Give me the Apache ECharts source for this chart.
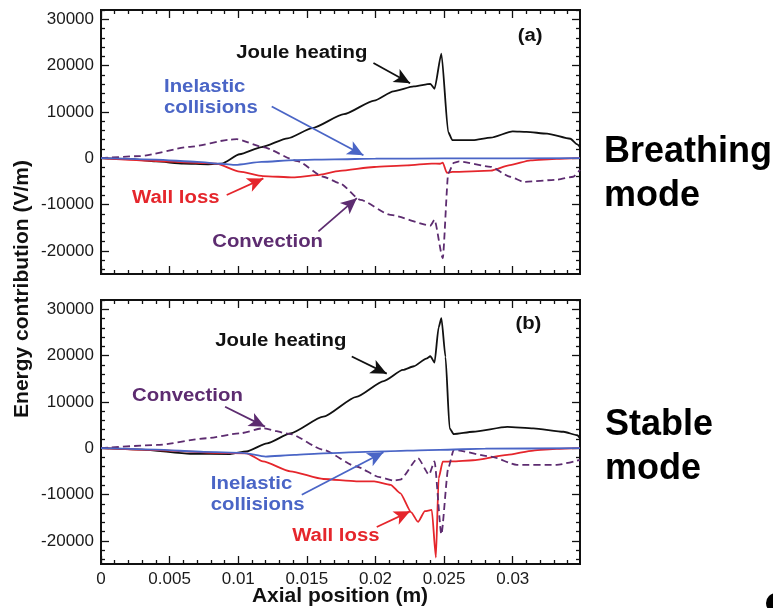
<!DOCTYPE html>
<html>
<head>
<meta charset="utf-8">
<script src="https://cdn.jsdelivr.net/npm/echarts@6/dist/echarts.min.js"></script>
<style>
  html, body { margin: 0; padding: 0; background: #fff; }
  #main { width: 773px; height: 608px; }
</style>
</head>
<body>
<div id="main"></div>
<script>
// axes
var xRange = [0, 0.0349];
var yRange = [-25000, 32000];
var xTicks = [0, 0.005, 0.01, 0.015, 0.02, 0.025, 0.03];
var yTicks = [-20000, -10000, 0, 10000, 20000, 30000];

// (a) breathing mode, [axial position, V/m]
var jouleA = [[0,0],[0.002,-150],[0.004,-700],[0.006,-1150],[0.0078,-1300],[0.0088,-1150],[0.0101,850],[0.0117,2400],[0.0136,4300],[0.0154,6500],[0.0177,9500],[0.0199,12450],[0.0213,14450],[0.0228,15500],[0.024,16050],[0.0243,15000],[0.0248,22600],[0.0253,5600],[0.0256,3900],[0.0271,3900],[0.0284,4450],[0.03,5800],[0.031,5700],[0.0325,5300],[0.0342,4200],[0.0347,3000],[0.0349,2400]];
var inelA = [[0,0],[0.004,-300],[0.007,-800],[0.0088,-1200],[0.0098,-1450],[0.0117,-800],[0.0141,-400],[0.017,-250],[0.02,-100],[0.025,-50],[0.0349,0]];
var wallA = [[0,0],[0.004,-600],[0.007,-1000],[0.0084,-1150],[0.0101,-2900],[0.0118,-3850],[0.014,-4150],[0.0157,-3650],[0.0174,-2750],[0.0199,-1900],[0.0223,-1550],[0.0241,-1150],[0.0247,-1200],[0.0249,-950],[0.0252,-3150],[0.0256,-2950],[0.0284,-2700],[0.0298,-1500],[0.0313,-450],[0.0332,-150],[0.0349,0]];
var convA = [[0,0],[0.0028,450],[0.0065,2450],[0.0094,4000],[0.0099,4100],[0.0118,2400],[0.0143,-600],[0.0162,-4000],[0.0174,-5400],[0.0189,-9000],[0.0211,-12250],[0.024,-14550],[0.0243,-13300],[0.0249,-21600],[0.0253,-3300],[0.0257,-1000],[0.0261,-700],[0.0284,-1850],[0.0298,-4000],[0.0308,-5100],[0.0332,-4650],[0.0344,-4000],[0.0349,-2500]];

// (b) stable mode
var jouleB = [[0,0],[0.003,-300],[0.0065,-1200],[0.0094,-1250],[0.0106,-700],[0.0121,1050],[0.0138,3200],[0.0162,6800],[0.0186,11100],[0.0206,14500],[0.022,16900],[0.0228,17700],[0.0237,19350],[0.024,19850],[0.0243,18500],[0.0246,26100],[0.0248,28100],[0.0251,19700],[0.0254,4300],[0.0257,3050],[0.0271,3550],[0.0296,4600],[0.0315,4300],[0.0337,3550],[0.0347,2800],[0.0349,2150]];
var inelB = [[0,0],[0.004,-300],[0.0075,-800],[0.0103,-1000],[0.012,-1800],[0.0141,-1450],[0.0162,-1100],[0.0199,-720],[0.0247,-350],[0.028,-100],[0.0349,0]];
var wallB = [[0,0],[0.004,-400],[0.0082,-1000],[0.0106,-1100],[0.0118,-2850],[0.0138,-5000],[0.0162,-6650],[0.0186,-7150],[0.0199,-7150],[0.0211,-7900],[0.0218,-9700],[0.0226,-13850],[0.0231,-15900],[0.0236,-13600],[0.0241,-13300],[0.0244,-23600],[0.0246,-6500],[0.0249,-2900],[0.0256,-2850],[0.0271,-2600],[0.0296,-1450],[0.0315,-500],[0.0332,-150],[0.0349,0]];
var convB = [[0,0],[0.0041,700],[0.0077,2150],[0.0101,3200],[0.0118,4300],[0.0138,3050],[0.0162,-350],[0.0186,-3950],[0.0203,-6250],[0.0213,-7000],[0.0218,-6800],[0.0231,-2150],[0.0239,-5700],[0.0243,-2850],[0.0248,-18600],[0.0253,-4300],[0.0257,-350],[0.0284,-1800],[0.0303,-3600],[0.0332,-3600],[0.0349,-2500]];

var FONT = '"Liberation Sans", Arial, sans-serif';
var BLACK = '#111', BLUE = '#4a65c6', RED = '#e5262c', PURPLE = '#5d2c70';

// annotations in data coordinates
var notesA = [
  { text: 'Joule heating', at: [0.01463, 22680], color: BLACK, align: 'center' },
  { text: '(a)', at: [0.03127, 26450], color: BLACK, align: 'center' },
  { text: 'Inelastic\ncollisions', at: [0.00459, 13180], color: BLUE, align: 'left' },
  { text: 'Wall loss', at: [0.00545, -8665], color: RED, align: 'center' },
  { text: 'Convection', at: [0.01214, -17995], color: PURPLE, align: 'center' }
];
var arrowsA = [
  { from: [0.01985, 20540], to: [0.02252, 16190], color: BLACK },
  { from: [0.01244, 11180], to: [0.01912, 645], color: BLUE },
  { from: [0.00916, -7955], to: [0.01183, -4365], color: RED },
  { from: [0.01584, -15800], to: [0.01864, -8620], color: PURPLE }
];
var notesB = [
  { text: 'Joule heating', at: [0.0131, 23110], color: BLACK, align: 'center' },
  { text: '(b)', at: [0.03114, 26900], color: BLACK, align: 'center' },
  { text: 'Convection', at: [0.0063, 11240], color: PURPLE, align: 'center' },
  { text: 'Inelastic\ncollisions', at: [0.008, -9930], color: BLUE, align: 'left' },
  { text: 'Wall loss', at: [0.01711, -19020], color: RED, align: 'center' }
];
var arrowsB = [
  { from: [0.01827, 19800], to: [0.02082, 16100], color: BLACK },
  { from: [0.00904, 8950], to: [0.01195, 4650], color: PURPLE },
  { from: [0.01463, -10040], to: [0.02058, -880], color: BLUE },
  { from: [0.02009, -17000], to: [0.02252, -13630], color: RED }
];

// minor tick positions
var xMinor = [];
for (var i = 1; i <= 34; i++) { if (i % 5 !== 0) xMinor.push(i / 1000); }
var yMinor = [];
for (var v = -24000; v <= 32000; v += 2000) { if (v % 10000 !== 0) yMinor.push(v); }

function mkAxis(gridIndex, position, range, ticks, len, labels) {
  return {
    type: 'value', gridIndex: gridIndex, position: position,
    min: range[0], max: range[1],
    axisLine: { show: true, onZero: false, lineStyle: { color: BLACK, width: 2 } },
    axisTick: { show: true, inside: true, length: len, customValues: ticks, lineStyle: { color: BLACK, width: 1.3 } },
    axisLabel: labels ? {
      show: true, customValues: labels, margin: 7,
      formatter: function (val) { return String(val); },
      fontSize: 17, color: '#1a1a1a', fontFamily: FONT
    } : { show: false },
    splitLine: { show: false }
  };
}

function mkArrows(list) {
  return {
    silent: true, symbol: ['none', 'arrow'], symbolSize: [11, 16],
    label: { show: false }, animation: false,
    data: list.map(function (a) {
      return [
        { coord: a.from, lineStyle: { color: a.color, width: 1.8, type: 'solid' } },
        { coord: a.to, lineStyle: { color: a.color, width: 1.8, type: 'solid' } }
      ];
    })
  };
}

function mkLine(name, data, color, dashed, axisIdx, arrows) {
  var s = {
    name: name, type: 'line', data: data,
    xAxisIndex: axisIdx, yAxisIndex: axisIdx,
    symbol: 'none', smooth: 0.2, smoothMonotone: 'x',
    lineStyle: { color: color, width: 1.8, type: dashed ? [7, 4] : 'solid' },
    itemStyle: { color: color },
    z: 3
  };
  if (arrows) s.markLine = mkArrows(arrows);
  return s;
}

var chart = echarts.init(document.getElementById('main'));

var gridBox = { left: 101, right: 193, height: 264 };
chart.setOption({
  animation: false,
  grid: [
    { left: gridBox.left, right: gridBox.right, top: 10, height: gridBox.height },
    { left: gridBox.left, right: gridBox.right, top: 300, height: gridBox.height },
    { left: gridBox.left, right: gridBox.right, top: 10, height: gridBox.height },
    { left: gridBox.left, right: gridBox.right, top: 300, height: gridBox.height }
  ],
  xAxis: [
    mkAxis(0, 'bottom', xRange, xTicks, 8),
    mkAxis(0, 'top', xRange, xTicks, 8),
    mkAxis(1, 'bottom', xRange, xTicks, 8, xTicks),
    mkAxis(1, 'top', xRange, xTicks, 8),
    mkAxis(2, 'bottom', xRange, xMinor, 4),
    mkAxis(2, 'top', xRange, xMinor, 4),
    mkAxis(3, 'bottom', xRange, xMinor, 4),
    mkAxis(3, 'top', xRange, xMinor, 4)
  ],
  yAxis: [
    mkAxis(0, 'left', yRange, yTicks, 8, yTicks),
    mkAxis(0, 'right', yRange, yTicks, 8),
    mkAxis(1, 'left', yRange, yTicks, 8, yTicks),
    mkAxis(1, 'right', yRange, yTicks, 8),
    mkAxis(2, 'left', yRange, yMinor, 4),
    mkAxis(2, 'right', yRange, yMinor, 4),
    mkAxis(3, 'left', yRange, yMinor, 4),
    mkAxis(3, 'right', yRange, yMinor, 4)
  ],
  series: [
    mkLine('Joule heating', jouleA, BLACK, false, 0, arrowsA),
    mkLine('Wall loss', wallA, RED, false, 0),
    mkLine('Convection', convA, PURPLE, true, 0),
    mkLine('Inelastic collisions', inelA, BLUE, false, 0),
    mkLine('Joule heating', jouleB, BLACK, false, 2, arrowsB),
    mkLine('Wall loss', wallB, RED, false, 2),
    mkLine('Convection', convB, PURPLE, true, 2),
    mkLine('Inelastic collisions', inelB, BLUE, false, 2)
  ]
});

// text annotations placed through the axes (the source figure is a bit wide, hence scaleX)
var graphics = [];
function addNotes(list, axisIdx) {
  list.forEach(function (n) {
    var p = chart.convertToPixel({ xAxisIndex: axisIdx, yAxisIndex: axisIdx }, n.at);
    graphics.push({
      type: 'text', x: p[0], y: p[1], z: 10, scaleX: 1.13,
      style: {
        text: n.text, fill: n.color, font: 'bold 18px ' + FONT,
        align: n.align, verticalAlign: 'middle', lineHeight: 21
      }
    });
  });
}
addNotes(notesA, 0);
addNotes(notesB, 2);

function bigText(str, x, y, size) {
  graphics.push({
    type: 'text', x: x, y: y, z: 10,
    style: { text: str, fill: '#000', font: 'bold ' + size + 'px ' + FONT, align: 'left', verticalAlign: 'middle' }
  });
}
bigText('Breathing', 604, 152, 36);
bigText('mode', 604, 196, 36);
bigText('Stable', 605, 425, 36);
bigText('mode', 605, 469, 36);

graphics.push({
  type: 'text', x: 22, y: 289, rotation: Math.PI / 2, z: 10,
  style: { text: 'Energy contribution (V/m)', fill: '#111', font: 'bold 21px ' + FONT, align: 'center', verticalAlign: 'middle' }
});
graphics.push({
  type: 'text', x: 340, y: 596, z: 10,
  style: { text: 'Axial position (m)', fill: '#111', font: 'bold 21px ' + FONT, align: 'center', verticalAlign: 'middle' }
});
graphics.push({
  type: 'circle', shape: { cx: 776, cy: 603, r: 10 }, style: { fill: '#000' }, z: 10
});

chart.setOption({ graphic: graphics });
</script>
</body>
</html>
